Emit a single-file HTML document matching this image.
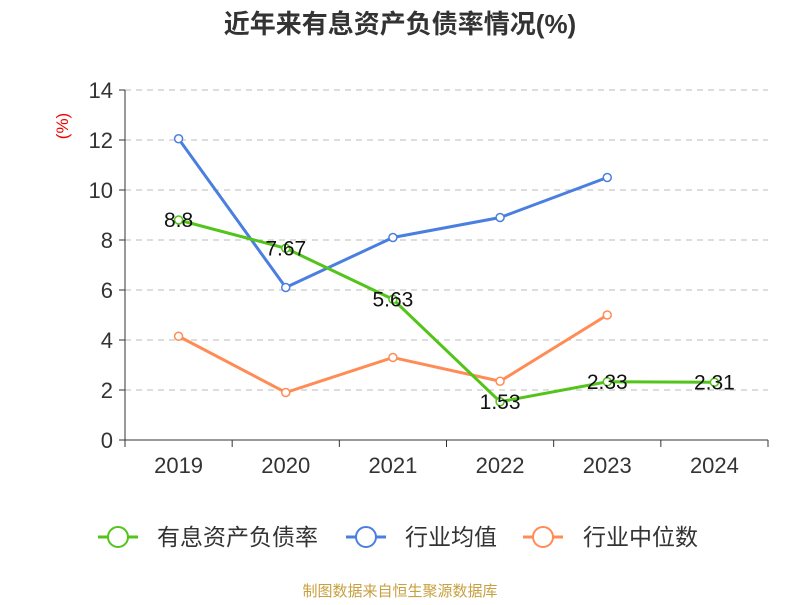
<!DOCTYPE html>
<html><head><meta charset="utf-8"><style>
body{margin:0;background:#fff;}
svg text{font-family:"Liberation Sans","Noto Sans CJK SC",sans-serif;}
</style></head><body>
<svg width="800" height="600" id="c">
<text x="400" y="33" text-anchor="middle" font-size="26" font-weight="bold" fill="#333">近年来有息资产负债率情况(%)</text>
<text transform="translate(68,126) rotate(-90)" text-anchor="middle" font-size="17" fill="#e00">(%)</text>
<g id="grid"></g><g id="axes"></g><g id="series"></g><g id="labels"></g>
<g>
<g><line x1="98" y1="537" x2="138" y2="537" stroke="#52c41a" stroke-width="3"/><circle cx="118" cy="537" r="10" fill="#fff" stroke="#52c41a" stroke-width="2"/><text x="157" y="545" font-size="23" fill="#333">有息资产负债率</text></g>
<g><line x1="346" y1="537" x2="386" y2="537" stroke="#4a7fe0" stroke-width="3"/><circle cx="366" cy="537" r="10" fill="#fff" stroke="#4a7fe0" stroke-width="2"/><text x="405" y="545" font-size="23" fill="#333">行业均值</text></g>
<g><line x1="523" y1="537" x2="563" y2="537" stroke="#ff8c55" stroke-width="3"/><circle cx="543" cy="537" r="10" fill="#fff" stroke="#ff8c55" stroke-width="2"/><text x="583" y="545" font-size="23" fill="#333">行业中位数</text></g>
</g>
<text x="400" y="596" text-anchor="middle" font-size="15" fill="#c8a040">制图数据来自恒生聚源数据库</text>
</svg>
<script>
const categories=["2019","2020","2021","2022","2023","2024"];
const debtRatio=[8.8,7.67,5.63,1.53,2.33,2.31];
const industryAvg=[12.05,6.1,8.1,8.9,10.5,null];
const industryMedian=[4.15,1.9,3.3,2.35,5.0,null];
const yTicks=[0,2,4,6,8,10,12,14];
const NS="http://www.w3.org/2000/svg";
const x0=125,x1=768,yB=440,yT=90,ymax=14;
const bw=(x1-x0)/categories.length;
const X=i=>x0+bw*(i+0.5);
const Y=v=>yB-(v/ymax)*(yB-yT);
function mk(p,t,a){const e=document.createElementNS(NS,t);for(const k in a)e.setAttribute(k,a[k]);document.getElementById(p).appendChild(e);return e;}
yTicks.forEach(t=>{
 if(t>0){const g=mk("grid","line",{x1:x0,x2:x1,y1:Y(t),y2:Y(t),stroke:"#bbb","stroke-dasharray":"6,5"});
 
 }
 const tk=mk("axes","line",{x1:x0-6,x2:x0,y1:Y(t),y2:Y(t),stroke:"#333"});
 
 
 const l=mk("axes","text",{x:x0-12,y:Y(t)+8,"text-anchor":"end","font-size":"22",fill:"#333"});l.textContent=t;
 
 
});
const ya=mk("axes","line",{x1:x0,x2:x0,y1:yT,y2:yB,stroke:"#333"});


const xa=mk("axes","line",{x1:x0,x2:x1,y1:yB,y2:yB,stroke:"#333"});


for(let i=0;i<=categories.length;i++){const t=mk("axes","line",{x1:x0+bw*i,x2:x0+bw*i,y1:yB,y2:yB+7,stroke:"#333"});
 
 }
categories.forEach((c,i)=>{const l=mk("axes","text",{x:X(i),y:yB+33,"text-anchor":"middle","font-size":"22",fill:"#333"});l.textContent=c;
 
 });
function series(arr,color,name){
 let d="";arr.forEach((v,i)=>{if(v==null)return;d+=(d?"L":"M")+X(i)+","+Y(v);});
 const p=mk("series","path",{d:d,fill:"none",stroke:color,"stroke-width":3});
 
 
 arr.forEach((v,i)=>{if(v==null)return;const c=mk("series","circle",{cx:X(i),cy:Y(v),r:4,fill:"#fff",stroke:color,"stroke-width":1.5});
  
  });
}
series(industryAvg,"#4a7fe0","industry-avg");
series(industryMedian,"#ff8c55","industry-median");
series(debtRatio,"#52c41a","debt-ratio");
debtRatio.forEach((v,i)=>{const l=mk("labels","text",{x:X(i),y:Y(v)+7,"text-anchor":"middle","font-size":"21",fill:"#111"});l.textContent=v;
 
 });
</script>
</body></html>
